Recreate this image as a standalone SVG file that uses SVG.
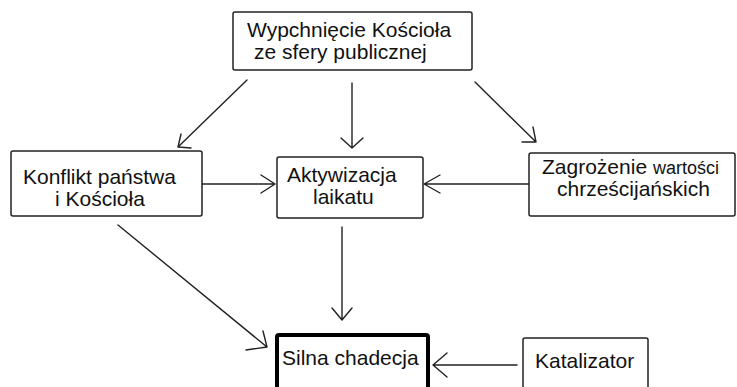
<svg xmlns="http://www.w3.org/2000/svg" width="737" height="387" viewBox="0 0 737 387">
  <style>
    .box { fill: #ffffff; stroke: #222222; stroke-width: 1.5; }
    .box-strong { fill: #ffffff; stroke: #000000; stroke-width: 4; }
    .label { font-family: "Liberation Sans", Arial, sans-serif; font-size: 21px; fill: #111111; }
    .small { font-size: 18px; }
    .edge { fill: none; stroke: #222222; stroke-width: 1.4; stroke-linecap: round; stroke-linejoin: round; }
  </style>
  <rect width="737" height="387" fill="#ffffff"/>

  <!-- connectors: shaft plus open V head -->
  <g id="connectors">
    <path class="edge" d="M247,80 L178,147 M181,134 L178,147 L191,148"/>
    <path class="edge" d="M352,83 L352,148 M341,138 L352,148 L363,138"/>
    <path class="edge" d="M475,82 L536,142 M533,127 L536,142 L522,142"/>
    <path class="edge" d="M202,184 L275,184 M261,175 L275,184 L261,193"/>
    <path class="edge" d="M529,184 L424,184 M440,175 L424,184 L440,193"/>
    <path class="edge" d="M342,227 L342,320 M332,308 L342,320 L352,308"/>
    <path class="edge" d="M118,225 L267,347 M263,331 L267,347 L246,350"/>
    <path class="edge" d="M517,365 L433,365 M447,353 L433,365 L447,377"/>
  </g>

  <g id="node-wypchniecie">
    <rect class="box" x="233" y="12" width="239" height="58" rx="2"/>
    <text class="label" x="247" y="37">Wypchnięcie Kościoła</text>
    <text class="label" x="254" y="59">ze sfery publicznej</text>
  </g>

  <g id="node-konflikt">
    <rect class="box" x="11" y="151" width="191" height="65" rx="2"/>
    <text class="label" x="23" y="184">Konflikt państwa</text>
    <text class="label" x="55" y="206">i Kościoła</text>
  </g>

  <g id="node-aktywizacja">
    <rect class="box" x="277" y="157" width="146" height="61" rx="2"/>
    <text class="label" x="287" y="182">Aktywizacja</text>
    <text class="label" x="313" y="204">laikatu</text>
  </g>

  <g id="node-zagrozenie">
    <rect class="box" x="529" y="153" width="206" height="63" rx="2"/>
    <text class="label" x="542" y="174">Zagrożenie <tspan class="small">wartości</tspan></text>
    <text class="label" x="557" y="196">chrześcijańskich</text>
  </g>

  <g id="node-silna-chadecja">
    <rect class="box-strong" x="277" y="335" width="151" height="60" rx="2"/>
    <text class="label" x="282" y="365">Silna chadecja</text>
  </g>

  <g id="node-katalizator">
    <rect class="box" x="523" y="338" width="125" height="56" rx="2"/>
    <text class="label" x="535" y="368">Katalizator</text>
  </g>
</svg>
